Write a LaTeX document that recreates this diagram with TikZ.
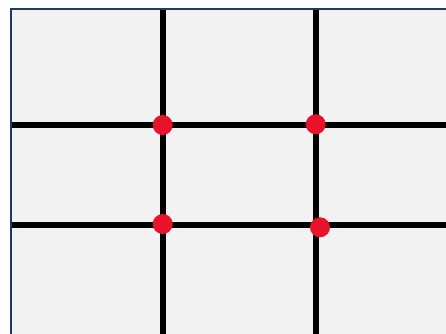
\documentclass[tikz,border=0pt]{standalone}
\usepackage{tikz}
\usetikzlibrary{positioning, calc}
\usepackage{xcolor}
\definecolor{panelgray}{HTML}{F2F2F2}
\definecolor{framenavy}{HTML}{1F3864}
\definecolor{dotred}{HTML}{E8132B}
\tikzstyle{frame} = [draw=framenavy, line width=2pt, fill=panelgray]
\tikzstyle{gridline} = [black, line width=5.5pt]
\tikzstyle{dot} = [circle, fill=dotred, minimum size=20pt, inner sep=0pt]

\begin{document}
\begin{tikzpicture}[x=1pt, y=-1pt]
\useasboundingbox (0,0) rectangle (446,333);
\fill[white] (0,0) rectangle (446,333);
\begin{scope}
\clip (0,0) rectangle (446,333);
\draw[frame] (11,9) rectangle (460,350);
% grid lines
\draw[gridline] (163,10) -- (163,340);
\draw[gridline] (316,10) -- (316,340);
\draw[gridline] (12,125) -- (450,125);
\draw[gridline] (12,225) -- (450,225);
\end{scope}
% intersections
\node (tl) [dot] at (162.7,125) {};
\node (tr) [dot] at (315.7,124.3) {};
\node (bl) [dot] at (162.7,224) {};
\node (br) [dot] at (320,227.3) {};
\end{tikzpicture}
\end{document}
